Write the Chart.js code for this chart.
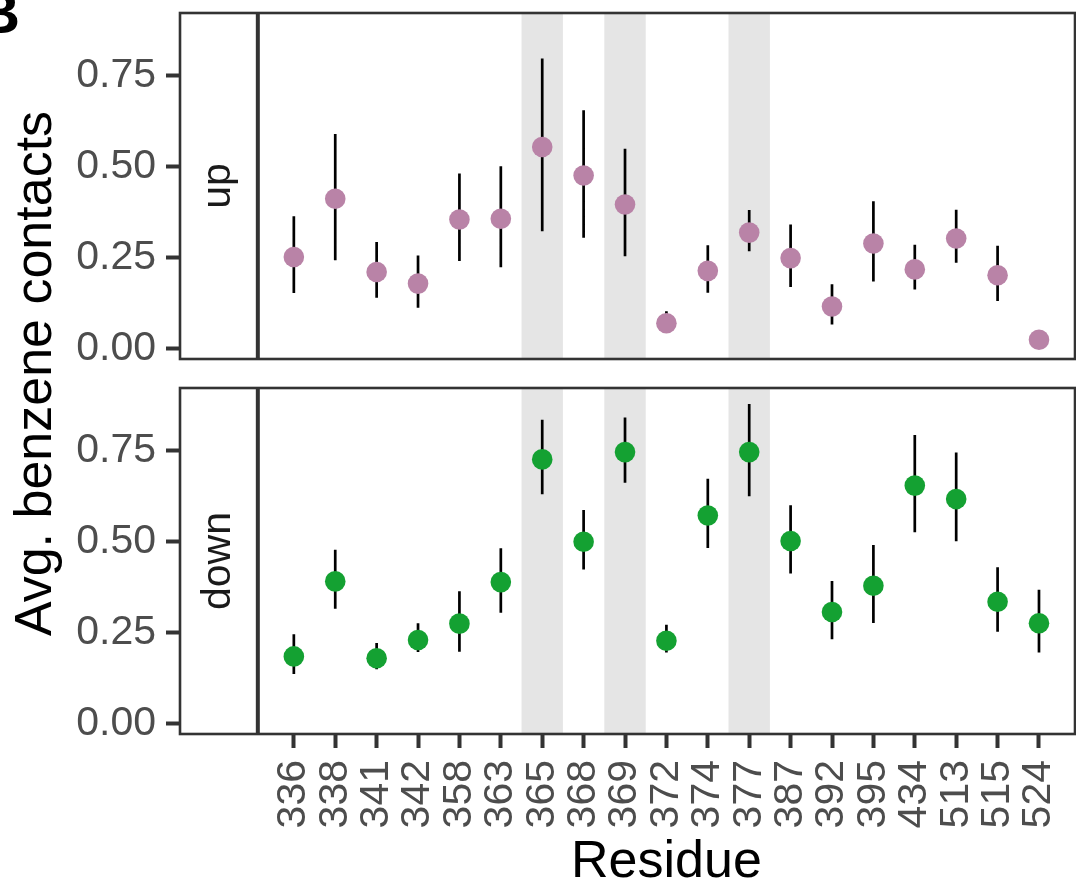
<!DOCTYPE html>
<html>
<head>
<meta charset="utf-8">
<script src="https://cdn.jsdelivr.net/npm/chart.js@4"></script>
<style>
  html, body { margin: 0; padding: 0; background: #fff; }
  #wrap { position: relative; width: 1076px; height: 894px; overflow: hidden; }
  #wrap canvas { position: absolute; left: 0; top: 0; }
</style>
</head>
<body>
<div id="wrap">
  <canvas id="upChart" width="1076" height="894"></canvas>
  <canvas id="downChart" width="1076" height="894"></canvas>
</div>
<script>
const residues = ['336', '338', '341', '342', '358', '363', '365', '368', '369', '372',
                  '374', '377', '387', '392', '395', '434', '513', '515', '524'];
const shadedResidues = ['365', '369', '377'];

// "up" state: mean and error bar ends
const upMean = [0.252, 0.412, 0.211, 0.179, 0.355, 0.357, 0.554, 0.476, 0.396, 0.070,
                0.214, 0.319, 0.249, 0.116, 0.289, 0.218, 0.303, 0.202, 0.025];
const upLow  = [0.153, 0.243, 0.140, 0.113, 0.241, 0.224, 0.323, 0.305, 0.254, 0.045,
                0.154, 0.268, 0.170, 0.067, 0.185, 0.163, 0.236, 0.131, 0.015];
const upHigh = [0.364, 0.590, 0.293, 0.256, 0.481, 0.501, 0.797, 0.655, 0.549, 0.103,
                0.284, 0.381, 0.341, 0.177, 0.405, 0.286, 0.382, 0.283, 0.035];

// "down" state
const downMean = [0.185, 0.391, 0.180, 0.230, 0.275, 0.389, 0.726, 0.500, 0.746, 0.228,
                  0.572, 0.746, 0.502, 0.307, 0.379, 0.654, 0.617, 0.335, 0.276];
const downLow  = [0.137, 0.316, 0.150, 0.197, 0.198, 0.305, 0.630, 0.424, 0.662, 0.196,
                  0.483, 0.625, 0.413, 0.232, 0.277, 0.526, 0.501, 0.253, 0.196];
const downHigh = [0.246, 0.478, 0.222, 0.276, 0.364, 0.482, 0.835, 0.587, 0.841, 0.272,
                  0.673, 0.878, 0.600, 0.392, 0.491, 0.793, 0.745, 0.430, 0.368];

const yTicks = [0, 0.25, 0.5, 0.75];

// x range includes room on the left for the facet strip
const xMin = -2.75, stripEnd = -0.87, xMax = 18.87;
const yMin = -0.028, yMax = 0.922;

const FONT = '"Liberation Sans", Arial, Helvetica, sans-serif';
Chart.defaults.font.family = FONT;

function drawTitles(chart, stripEdge) {
  const { ctx, chartArea: area } = chart;
  ctx.save();
  ctx.fillStyle = '#000';
  ctx.font = '52px ' + FONT;
  ctx.textAlign = 'center';
  ctx.textBaseline = 'alphabetic';
  ctx.fillText('Residue', (stripEdge + area.right) / 2, 877);

  ctx.translate(51, (13 + area.bottom) / 2);
  ctx.rotate(-Math.PI / 2);
  ctx.fillText('Avg. benzene contacts', 0, 0);
  ctx.restore();

  // panel letter, mostly cut off at the page edge
  ctx.save();
  ctx.fillStyle = '#000';
  ctx.font = 'bold 60px ' + FONT;
  ctx.textAlign = 'right';
  ctx.textBaseline = 'alphabetic';
  ctx.fillText('B', 20, 33);
  ctx.restore();
}

function panel(canvasId, label, mean, low, high, colour, isBottom) {
  const decor = {
    id: 'panelDecor',
    beforeDatasetsDraw(chart) {
      const { ctx, chartArea: area, scales: { x, y } } = chart;
      ctx.save();
      // grey columns behind highlighted residues
      ctx.fillStyle = '#e5e5e5';
      residues.forEach((r, i) => {
        if (!shadedResidues.includes(r)) return;
        const x0 = x.getPixelForValue(i - 0.5);
        const x1 = x.getPixelForValue(i + 0.5);
        ctx.fillRect(x0, area.top, x1 - x0, area.bottom - area.top);
      });
      // error bars
      ctx.strokeStyle = '#000';
      ctx.lineWidth = 2.7;
      ctx.beginPath();
      low.forEach((lo, i) => {
        const px = x.getPixelForValue(i);
        ctx.moveTo(px, y.getPixelForValue(lo));
        ctx.lineTo(px, y.getPixelForValue(high[i]));
      });
      ctx.stroke();
      ctx.restore();
    },
    afterDraw(chart) {
      const { ctx, chartArea: area, scales: { x } } = chart;
      const stripEdge = x.getPixelForValue(stripEnd);
      ctx.save();
      ctx.strokeStyle = '#333';
      ctx.lineWidth = 2.6;
      ctx.strokeRect(area.left, area.top, area.right - area.left, area.bottom - area.top);
      ctx.lineWidth = 4;
      ctx.beginPath();
      ctx.moveTo(stripEdge, area.top);
      ctx.lineTo(stripEdge, area.bottom);
      ctx.stroke();

      // facet label
      ctx.fillStyle = '#1a1a1a';
      ctx.font = '41px ' + FONT;
      ctx.textAlign = 'center';
      ctx.textBaseline = 'middle';
      ctx.translate((area.left + stripEdge) / 2, (area.top + area.bottom) / 2);
      ctx.rotate(-Math.PI / 2);
      ctx.fillText(label, 0, 0);
      ctx.restore();

      if (isBottom) drawTitles(chart, stripEdge);
    }
  };

  return new Chart(document.getElementById(canvasId), {
    type: 'scatter',
    data: {
      datasets: [{
        data: mean.map((v, i) => ({ x: i, y: v })),
        backgroundColor: colour,
        borderColor: colour,
        borderWidth: 0,
        pointRadius: 10.3,
        pointHoverRadius: 10.3
      }]
    },
    options: {
      responsive: false,
      animation: false,
      devicePixelRatio: 1,
      layout: {
        autoPadding: false,
        padding: isBottom
          ? { top: 388, bottom: 0, left: 0, right: 1 }
          : { top: 13, bottom: 535, left: 0, right: 1 }
      },
      plugins: {
        legend: { display: false },
        tooltip: { enabled: false }
      },
      scales: {
        x: {
          type: 'linear',
          min: xMin,
          max: xMax,
          display: isBottom,
          afterBuildTicks: s => { s.ticks = residues.map((r, i) => ({ value: i })); },
          afterFit: s => {
            s.height = isBottom ? 160 : 0;
            s.paddingLeft = 0;
            s.paddingRight = 0;
          },
          grid: { drawOnChartArea: false, tickLength: 14, tickWidth: 4, tickColor: '#333' },
          border: { display: false },
          ticks: {
            autoSkip: false,
            minRotation: 90,
            maxRotation: 90,
            padding: 12,
            color: '#4d4d4d',
            font: { size: 41 },
            callback: v => residues[v]
          }
        },
        y: {
          min: yMin,
          max: yMax,
          afterBuildTicks: s => { s.ticks = yTicks.map(v => ({ value: v })); },
          afterFit: s => { s.width = 180; s.paddingTop = 0; s.paddingBottom = 0; },
          grid: { drawOnChartArea: false, tickLength: 14, tickWidth: 4, tickColor: '#333' },
          border: { display: false },
          ticks: {
            padding: 10,
            color: '#4d4d4d',
            font: { size: 41 },
            callback: v => v.toFixed(2)
          }
        }
      }
    },
    plugins: [decor]
  });
}

panel('upChart', 'up', upMean, upLow, upHigh, '#b983a7', false);
panel('downChart', 'down', downMean, downLow, downHigh, '#14a132', true);
</script>
</body>
</html>
